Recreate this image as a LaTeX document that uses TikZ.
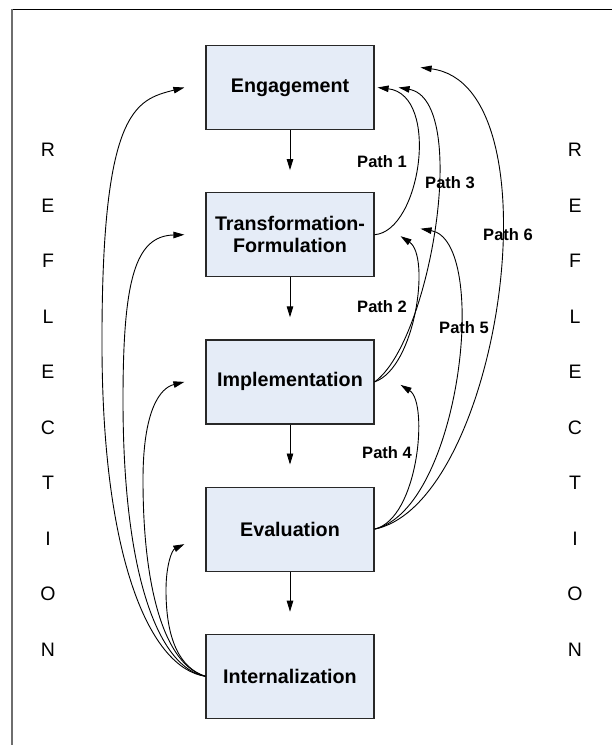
\documentclass[tikz,border=0pt]{standalone}
\usepackage{fontspec}
\setmainfont{Liberation Sans}
\usetikzlibrary{arrows.meta, positioning}
\definecolor{stagefill}{RGB}{229,236,247}
\definecolor{stageline}{RGB}{40,40,40}
\definecolor{framegray}{RGB}{110,110,110}

\begin{document}
\begin{tikzpicture}[
    x = 1pt, y = -1pt,
    stage/.style = {
      draw = stageline,
      fill = stagefill,
      line width = 1.2pt,
      rectangle,
      align = center,
      minimum width = 168pt,
      minimum height = 84pt,
      font = \fontsize{19.7}{22.3}\selectfont\bfseries,
    },
    flow/.style = {-{Triangle[length = 11pt, width = 6.5pt]}, line width = 0.9pt},
    pathlabel/.style = {font = \fontsize{16.5}{18}\selectfont\bfseries},
    letter/.style = {font = \fontsize{19.5}{20}\selectfont},
  ]
      \useasboundingbox (0,0) rectangle (612,745);
      \draw [line width = 1.3pt] (12,9.3) -- (612,9.3);
      \draw [framegray, line width = 2pt] (12.3,9.3) -- (12.3,745);

      \node [stage] (eng) at (290,87.5) {Engagement};
      \node [stage, below = 62pt of eng] (tra) {Transformation-\\Formulation};
      \node [stage, below = 62pt of tra] (imp) {Implementation};
      \node [stage, below = 62pt of imp] (eva) {Evaluation};
      \node [stage, below = 62pt of eva] (int) {Internalization};

      \foreach \a/\b in {eng/tra, tra/imp, imp/eva, eva/int}
        \draw [flow] (\a.south) -- ([yshift = 22pt]\b.north);

      \foreach [count = \i] \ltr in {R, E, F, L, E, C, T, I, O, N} {
        \node [letter] (left-\i)  at (48,  {94.5 + 55.5 * \i}) {\ltr};
        \node [letter] (right-\i) at (575, {94.5 + 55.5 * \i}) {\ltr};
      }

      \draw [flow] (int.west) .. controls (150,668) and (103,560) .. (102,350)
        .. controls (101,110) and (135,100) .. ([xshift = -21pt]eng.west);
      \draw [flow] (int.west) .. controls (160,668) and (123,580) .. (123,400)
        .. controls (123,280) and (135,236) .. ([xshift = -21pt]tra.west);
      \draw [flow] (int.west) .. controls (165,665) and (143,590) .. (143,480)
        .. controls (143,410) and (160,388) .. ([xshift = -21pt]imp.west);
      \draw [flow] (int.west) .. controls (180,668) and (166,640) .. (166,590)
        .. controls (166,565) and (172,550) .. ([xshift = -21pt, yshift = -15pt]eva.west);

      \draw [flow] (tra.east) .. controls +(46,-3.5) and +(63,7.5)
        .. ([xshift = 3pt]eng.east);
      \draw [flow] (imp.east) .. controls +(56,-40) and +(72,12.5)
        .. ([xshift = 24pt]eng.east);
      \draw [flow] (eva.east) .. controls +(126,-25.5) and +(140,17.5)
        .. ([xshift = 46pt, yshift = 20pt]eng.east);
      \draw [flow] (imp.east) .. controls +(41,-14.5) and +(30,20)
        .. ([xshift = 26pt, yshift = -1.5pt]tra.east);
      \draw [flow] (eva.east) .. controls +(86,-20.5) and +(70,12.5)
        .. ([xshift = 46pt, yshift = 6pt]tra.east);
      \draw [flow] (eva.east) .. controls +(44,-10.5) and +(28,17.5)
        .. ([xshift = 26pt, yshift = -3pt]imp.east);

      \node [pathlabel] (p1) at (382,162) {Path 1};
      \node [pathlabel] (p2) at (382,307) {Path 2};
      \node [pathlabel] (p3) at (450,183) {Path 3};
      \node [pathlabel] (p4) at (387,453) {Path 4};
      \node [pathlabel] (p5) at (464,328) {Path 5};
      \node [pathlabel] (p6) at (508,235) {Path 6};
\end{tikzpicture}
\end{document}
